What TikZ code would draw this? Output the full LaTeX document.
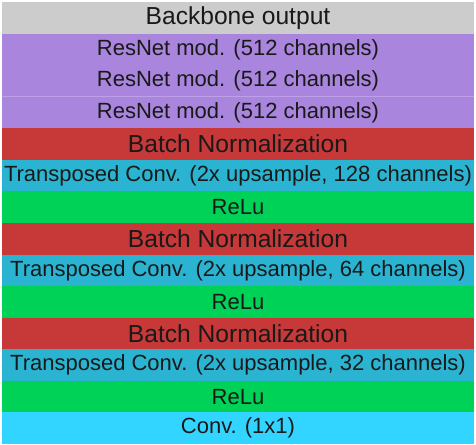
\documentclass[tikz,border=0pt]{standalone}
\usepackage{fontspec}
\setmainfont{Liberation Sans}
\usepackage{xcolor}
\usetikzlibrary{positioning}
\definecolor{bbgray}{RGB}{204,204,204}
\definecolor{resc}{RGB}{169,133,221}
\definecolor{resline}{RGB}{190,160,232}
\definecolor{bnc}{RGB}{199,56,56}
\definecolor{tcc}{RGB}{43,180,210}
\definecolor{reluc}{RGB}{0,210,88}
\definecolor{convc}{RGB}{50,213,255}
\newcommand{\bigtxt}{\fontsize{24.6}{28}\selectfont}
\newcommand{\smalltxt}{\fontsize{22}{26}\selectfont}

\begin{document}
\begin{tikzpicture}[
  node distance=0pt,
  layer/.style={minimum width=472pt,minimum height=31.57pt,inner sep=0pt,outer sep=0pt,text=black!90},
  bbout/.style={layer,fill=bbgray,font=\bigtxt},
  resmod/.style={layer,fill=resc,font=\smalltxt},
  bnorm/.style={layer,fill=bnc,font=\bigtxt},
  tconv/.style={layer,fill=tcc,font=\smalltxt},
  relu/.style={layer,fill=reluc,font=\smalltxt},
  conv/.style={layer,fill=convc,font=\smalltxt},
  sep/.style={draw=resline,line width=0.8pt}
]
\useasboundingbox (0,0) rectangle (476pt,-444pt);
\node[bbout,anchor=north west] (bb) at (2pt,-2pt) {Backbone output};
\node[resmod,below=of bb] (r1) {ResNet mod. (512 channels)};
\node[resmod,below=of r1] (r2) {ResNet mod. (512 channels)};
\node[resmod,below=of r2] (r3) {ResNet mod. (512 channels)};
\node[bnorm,below=of r3] (bn1) {Batch Normalization};
\node[tconv,below=of bn1] (tc1) {Transposed Conv. (2x upsample, 128 channels)};
\node[relu,below=of tc1] (re1) {ReLu};
\node[bnorm,below=of re1] (bn2) {Batch Normalization};
\node[tconv,below=of bn2] (tc2) {Transposed Conv. (2x upsample, 64 channels)};
\node[relu,below=of tc2] (re2) {ReLu};
\node[bnorm,below=of re2] (bn3) {Batch Normalization};
\node[tconv,below=of bn3] (tc3) {Transposed Conv. (2x upsample, 32 channels)};
\node[relu,below=of tc3] (re3) {ReLu};
\node[conv,below=of re3] (c1) {Conv. (1x1)};
\draw[sep] (r3.north west) -- (r3.north east);
\end{tikzpicture}
\end{document}
